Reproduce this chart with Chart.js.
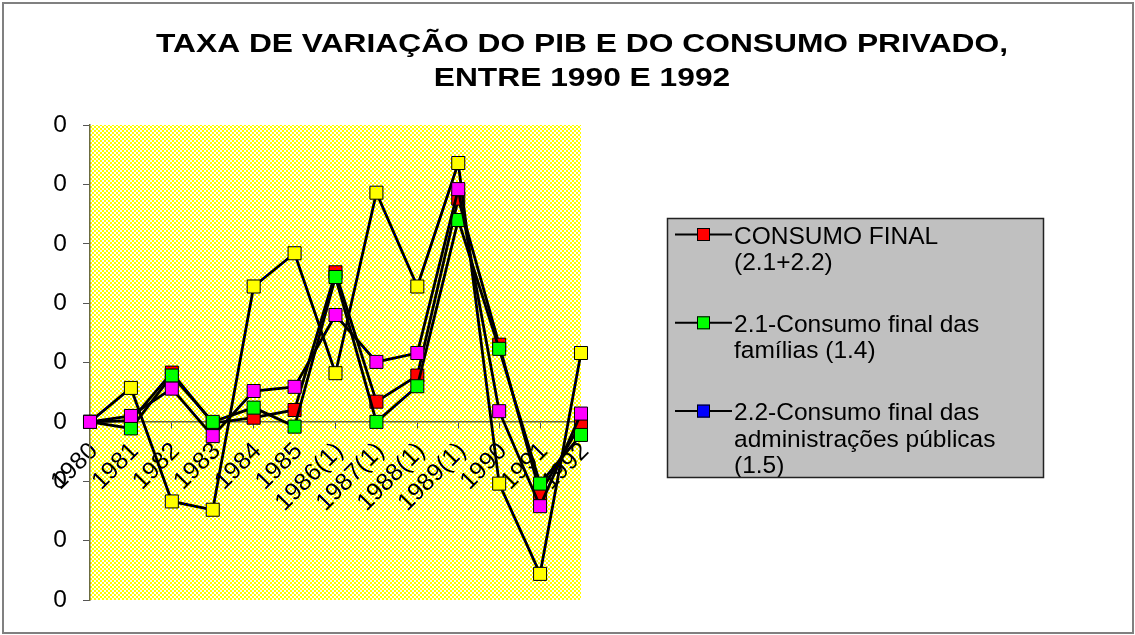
<!DOCTYPE html>
<html><head><meta charset="utf-8">
<script src="https://cdn.jsdelivr.net/npm/chart.js@4"></script>
<style>html,body{margin:0;padding:0;background:#fff}#wrap{position:relative;width:1135px;height:635px}</style>
</head><body><div id="wrap"><canvas id="c" width="1135" height="635"></canvas></div>
<script>
const categories = ['1980','1981','1982','1983','1984','1985','1986(1)','1987(1)','1988(1)','1989(1)','1990','1991','1992'];
const seriesNames = ['CONSUMO FINAL (2.1+2.2)','2.1-Consumo final das famílias (1.4)','2.2-Consumo final das administrações públicas (1.5)','',''];
const consumoFinal     = [0, 0.1, 4.15, -0.1, 0.35, 1.0, 12.6, 1.7, 3.9, 18.8, 6.5, -6.0, -0.15];
const consumoFamilias  = [0, -0.55, 3.9, 0, 1.2, -0.4, 12.2, 0, 3.0, 17.0, 6.15, -5.2, -1.1];
const consumoAdmin     = [null, null, null, null, null, null, null, null, null, null, null, null, null];
const serieAmarela     = [0, 2.86, -6.7, -7.4, 11.4, 14.2, 4.1, 19.3, 11.4, 21.8, -5.2, -12.8, 5.8];
const serieMagenta     = [0, 0.5, 2.8, -1.2, 2.6, 2.95, 9.0, 5.05, 5.8, 19.6, 0.9, -7.1, 0.7];
const yTickLabels = ['0','0','0','0','0','0','0','0','0'];
const titleLines = ['TAXA DE VARIAÇÃO DO PIB E DO CONSUMO PRIVADO,','ENTRE 1990 E 1992'];
const legendLines = [['CONSUMO FINAL','(2.1+2.2)'],['2.1-Consumo final das','famílias (1.4)'],['2.2-Consumo final das','administrações públicas','(1.5)']];
const seriesColors = ['#ff0000','#00ff00','#0000ff','#ffff00','#ff00ff'];

const FONT = '"Liberation Sans", Arial, sans-serif';

// plot-area checker pattern
const pc = document.createElement('canvas'); pc.width = 4; pc.height = 4;
const pctx = pc.getContext('2d');
pctx.fillStyle = '#ffffff'; pctx.fillRect(0,0,4,4);
pctx.fillStyle = '#ffff00'; pctx.fillRect(0,0,2,2); pctx.fillRect(2,2,2,2);

const bgPlugin = {
  id: 'bg',
  beforeDraw(chart) {
    const {ctx, chartArea: a} = chart;
    ctx.save();
    ctx.fillStyle = ctx.createPattern(pc, 'repeat');
    ctx.fillRect(a.left, a.top, a.right - a.left, a.bottom - a.top);
    ctx.restore();
  }
};

const titlePlugin = {
  id: 'wideTitle',
  afterDraw(chart) {
    const ctx = chart.ctx;
    ctx.save();
    ctx.font = 'bold 26px ' + FONT;
    ctx.fillStyle = '#000';
    ctx.textAlign = 'center';
    ctx.textBaseline = 'alphabetic';
    const sx = 852 / ctx.measureText(titleLines[0]).width;
    const baselines = [52, 86];
    titleLines.forEach((t, i) => {
      ctx.save();
      ctx.translate(582, baselines[i]);
      ctx.scale(sx, 1);
      ctx.fillText(t, 0, 0);
      ctx.restore();
    });
    ctx.restore();
  }
};

const legendPlugin = {
  id: 'boxLegend',
  afterDraw(chart) {
    const ctx = chart.ctx;
    const bx = 667, by = 218, bw = 376, bh = 259;
    ctx.save();
    ctx.fillStyle = '#c0c0c0';
    ctx.fillRect(bx, by, bw, bh);
    ctx.beginPath(); ctx.rect(bx, by, bw, bh); ctx.clip();
    ctx.font = '24.5px ' + FONT;
    ctx.textBaseline = 'alphabetic';
    ctx.textAlign = 'left';
    legendLines.forEach((lines, i) => {
      const y0 = 243.5 + i * 88.3;
      const ds = chart.data.datasets[i];
      const sy = y0 - 9;
      ctx.strokeStyle = '#000'; ctx.lineWidth = 2;
      ctx.beginPath(); ctx.moveTo(675, sy); ctx.lineTo(732, sy); ctx.stroke();
      ctx.fillStyle = ds.pointBackgroundColor;
      ctx.fillRect(697, sy - 6.5, 13, 13);
      ctx.lineWidth = 1;
      ctx.strokeRect(697.5, sy - 6, 12, 12);
      ctx.fillStyle = '#000';
      lines.forEach((t, j) => ctx.fillText(t, 734, y0 + j * 26.6));
    });
    ctx.restore();
    ctx.save();
    ctx.strokeStyle = '#222'; ctx.lineWidth = 1.5;
    ctx.strokeRect(bx + 0.5, by + 0.5, bw, bh);
    ctx.strokeStyle = '#808080'; ctx.lineWidth = 2;
    ctx.strokeRect(3, 3, 1130, 630);
    ctx.restore();
  }
};

const dataSeries = [consumoFinal, consumoFamilias, consumoAdmin, serieAmarela, serieMagenta];
const datasets = dataSeries.map((d, i) => ({
  label: seriesNames[i],
  data: d,
  order: 5 - i,
  borderColor: '#000',
  borderWidth: 2.8,
  tension: 0,
  fill: false,
  pointStyle: 'rect',
  pointRadius: 9.2,
  pointBorderWidth: 1,
  pointBorderColor: '#000',
  pointBackgroundColor: seriesColors[i],
  backgroundColor: seriesColors[i]
}));

new Chart(document.getElementById('c'), {
  type: 'line',
  data: { labels: categories, datasets },
  plugins: [bgPlugin, titlePlugin, legendPlugin],
  options: {
    responsive: false,
    animation: false,
    devicePixelRatio: 1,
    layout: { padding: { left: 30, right: 0, top: 125, bottom: 35 } },
    plugins: {
      legend: { display: false },
      tooltip: { enabled: false },
      title: { display: false }
    },
    scales: {
      x: {
        type: 'category', offset: false, position: { y: 0 },
        grid: { display: true, drawOnChartArea: false, drawTicks: true, tickLength: 6, color: '#555' },
        border: { display: true, color: '#6b6b40', width: 1.5 },
        ticks: { autoSkip: false, maxRotation: 45, minRotation: 45, padding: 9, labelOffset: 4, color: '#000', font: { family: FONT, size: 24.5 } }
      },
      y: {
        position: 'left', min: -15, max: 25,
        grid: { display: true, drawOnChartArea: false, drawTicks: true, tickLength: 7, color: '#555' },
        border: { display: true, color: '#6b6b40', width: 1.5 },
        ticks: { stepSize: 5, padding: 16, color: '#000', font: { family: FONT, size: 24.5 },
                 callback: (v, i) => yTickLabels[i] },
        afterFit(s) { s.width = 60; }
      },
      y2: {
        position: 'right', display: true,
        grid: { display: false }, border: { display: false },
        ticks: { display: false },
        afterFit(s) { s.width = 554; }
      }
    }
  }
});
</script></body></html>
